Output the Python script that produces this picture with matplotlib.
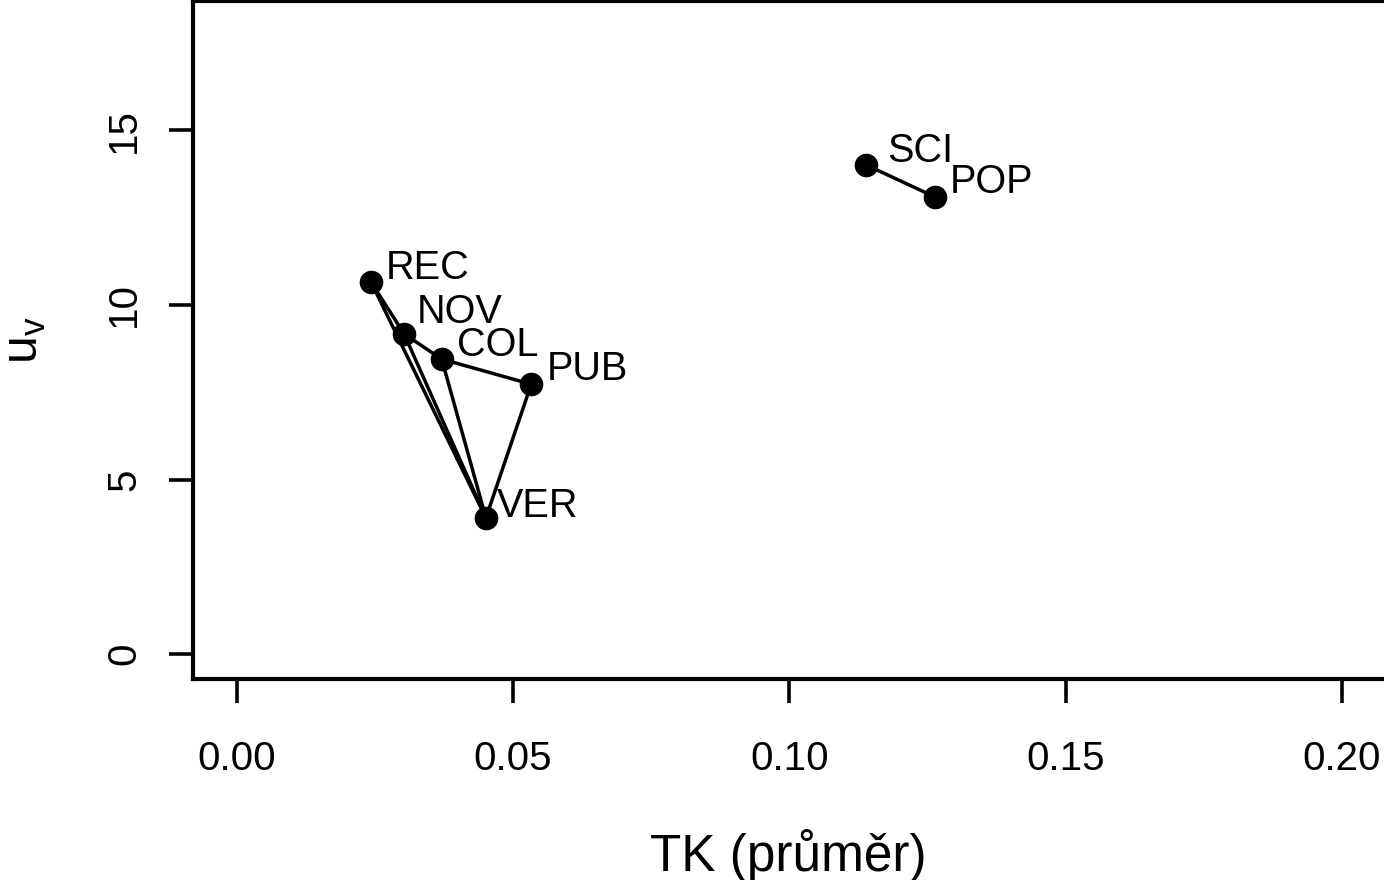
import matplotlib
matplotlib.use("Agg")
import matplotlib.pyplot as plt
from matplotlib.transforms import offset_copy

plt.rcParams['font.family'] = ['Liberation Sans', 'DejaVu Sans']
plt.rcParams['mathtext.fontset'] = 'custom'
plt.rcParams['mathtext.rm'] = 'Liberation Sans'

labels = ["SCI", "POP", "REC", "NOV", "COL", "PUB", "VER"]
tk = [0.1138, 0.1263, 0.0243, 0.0303, 0.0371, 0.0533, 0.0451]
uv = [14.02, 13.10, 10.66, 9.17, 8.45, 7.73, 3.90]
edges = [("SCI", "POP"), ("REC", "NOV"), ("NOV", "COL"), ("COL", "PUB"),
         ("REC", "VER"), ("NOV", "VER"), ("COL", "VER"), ("PUB", "VER")]
xticks = [0.00, 0.05, 0.10, 0.15, 0.20]
xticklabels = ["0.00", "0.05", "0.10", "0.15", "0.20"]
yticks = [0, 5, 10, 15]
yticklabels = ["0", "5", "10", "15"]
# label offsets (pixels): dx, dy of baseline-left relative to point
label_off = {"SCI": (22, 3), "POP": (15, 4), "REC": (15, 3), "NOV": (13, 11),
             "COL": (15, 3), "PUB": (16, 4), "VER": (11, 1)}

W, H = 1384, 880
fig = plt.figure(figsize=(W / 100, H / 100), dpi=100)
L, R, B, T = 193, 1386, 679, 1
ax = fig.add_axes([L / W, (H - B) / H, (R - L) / W, (B - T) / H])
ax.set_xlim((L - 236.7) / 5526, (R - 236.7) / 5526)
ax.set_ylim(-0.716, 18.71)

idx = {n: i for i, n in enumerate(labels)}
for a, b in edges:
    ax.plot([tk[idx[a]], tk[idx[b]]], [uv[idx[a]], uv[idx[b]]],
            color='black', lw=2.5, zorder=2, solid_capstyle='round')
ax.plot(tk, uv, 'o', color='black', ms=16, zorder=3, clip_on=False)

for n, x, y in zip(labels, tk, uv):
    dx, dy = label_off[n]
    tr = offset_copy(ax.transData, fig=fig, x=dx, y=dy, units='dots')
    ax.text(x, y, n, transform=tr, ha='left', va='baseline', fontsize=28.5, zorder=4)

for s in ax.spines.values():
    s.set_linewidth(3.0)
ax.set_xticks(xticks)
ax.set_xticklabels(xticklabels)
ax.set_yticks(yticks)
ax.set_yticklabels(yticklabels, rotation=90, va='center')
ax.tick_params(axis='both', direction='out', length=17, width=2.6, labelsize=29)
ax.tick_params(axis='x', pad=27)
ax.tick_params(axis='y', pad=19)

fig.text(788 / W, (H - 871) / H, "TK (průměr)", ha='center', va='baseline', fontsize=37)
fig.text(25 / W, (H - 340) / H, r"$\mathregular{u_v}$", ha='center', va='center',
         rotation=90, fontsize=36)

fig.savefig("out.png", dpi=100)
